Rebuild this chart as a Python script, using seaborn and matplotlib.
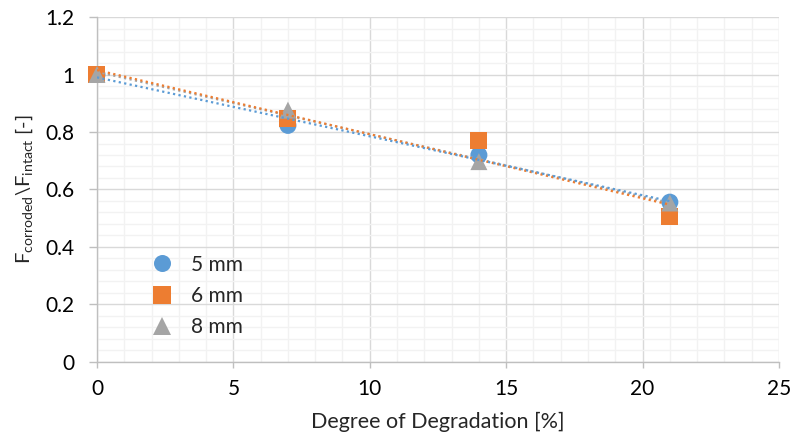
import matplotlib.pyplot as plt
import numpy as np
import pandas as pd
import seaborn as sns
from matplotlib.ticker import FuncFormatter, MultipleLocator

sns.set_theme(style="white")
plt.rcParams["font.family"] = ["Lato", "DejaVu Sans"]
plt.rcParams["mathtext.fontset"] = "custom"
plt.rcParams["mathtext.rm"] = "Lato"

degradation = [0, 7, 14, 21]
series_names = ["5 mm", "6 mm", "8 mm"]
ratio_5mm = [1.00, 0.823, 0.720, 0.556]
ratio_6mm = [1.00, 0.848, 0.772, 0.505]
ratio_8mm = [1.00, 0.876, 0.697, 0.553]

colors = {"5 mm": "#5B9BD5", "6 mm": "#ED7D31", "8 mm": "#A5A5A5"}
markers = {"5 mm": "o", "6 mm": "s", "8 mm": "^"}

df = pd.DataFrame({
    "x": degradation * 3,
    "y": ratio_5mm + ratio_6mm + ratio_8mm,
    "series": np.repeat(series_names, len(degradation)),
})

fig = plt.figure(figsize=(7.93, 4.44), dpi=100)
ax = fig.add_axes([0.1223, 0.1847, 0.860, 0.777])

sns.scatterplot(data=df, x="x", y="y", hue="series", style="series",
                palette=colors, markers=markers, s=150, linewidth=0,
                ax=ax, zorder=3, clip_on=False)

# dotted linear trendlines
for name in ["8 mm", "6 mm", "5 mm"]:
    sub = df[df["series"] == name]
    sns.regplot(data=sub, x="x", y="y", scatter=False, ci=None, ax=ax,
                line_kws={"color": colors[name], "linestyle": (0, (1, 1.5)),
                          "linewidth": 1.6, "zorder": 4})

ax.set_xlim(0, 25)
ax.set_ylim(0, 1.2)
ax.xaxis.set_major_locator(MultipleLocator(5))
ax.xaxis.set_minor_locator(MultipleLocator(1))
ax.yaxis.set_major_locator(MultipleLocator(0.2))
ax.yaxis.set_minor_locator(MultipleLocator(0.04))
ax.yaxis.set_major_formatter(FuncFormatter(lambda v, p: f"{v:g}"))

ax.grid(which="major", color="#D9D9D9", linewidth=1.0)
ax.grid(which="minor", color="#F2F2F2", linewidth=1.0)
ax.set_axisbelow(True)

for s in ["top", "right"]:
    ax.spines[s].set_visible(False)
for s in ["left", "bottom"]:
    ax.spines[s].set_color("#BFBFBF")
    ax.spines[s].set_linewidth(1.0)

ax.tick_params(which="major", direction="out", length=5, width=1.0,
               color="#BFBFBF", labelsize=15, labelcolor="#000000")
ax.tick_params(axis="x", which="major", bottom=True, length=4.5, pad=8)
ax.tick_params(axis="y", which="major", left=True, length=6, pad=10)
ax.tick_params(which="minor", length=0)

ax.set_xlabel("Degree of Degradation [%]", fontsize=15.5, labelpad=9)
ax.set_ylabel("F$_{\\mathrm{corroded}}$\\F$_{\\mathrm{intact}}$ [-]",
              fontsize=14.5, labelpad=8)

ax.legend(loc="upper left", bbox_to_anchor=(0.052, 0.335), frameon=False,
          fontsize=15, title=None, labelspacing=0.54, handletextpad=0.4,
          borderaxespad=0)

fig.savefig("out.png", dpi=100)
